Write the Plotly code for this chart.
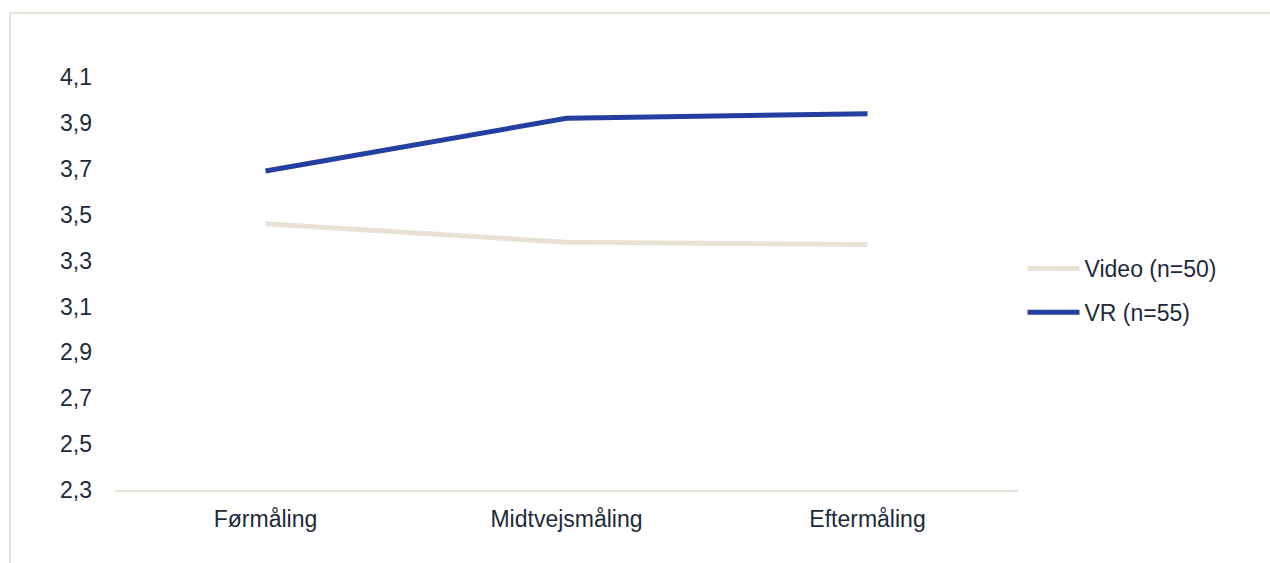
import plotly.graph_objects as go

categories = ["Førmåling", "Midtvejsmåling", "Eftermåling"]
video_values = [3.46, 3.38, 3.37]
vr_values = [3.69, 3.92, 3.94]
series_names = ["Video (n=50)", "VR (n=55)"]
y_ticks = [2.3, 2.5, 2.7, 2.9, 3.1, 3.3, 3.5, 3.7, 3.9, 4.1]
y_tick_labels = [f"{v:.1f}".replace(".", ",") for v in y_ticks]

FONT = "Liberation Sans, Arial, sans-serif"
TEXT = "#1C2B3B"
BEIGE = "#E8E1D6"
BLUE = "#2340A0"
FS = 23

fig = go.Figure()
fig.add_trace(go.Scatter(x=categories, y=video_values, name=series_names[0], mode="lines",
                         line=dict(color=BEIGE, width=5), legendgroup="a"))
fig.add_trace(go.Scatter(x=categories, y=vr_values, name=series_names[1], mode="lines",
                         line=dict(color=BLUE, width=5), legendgroup="b"))

fig.update_layout(
    width=1270, height=563,
    margin=dict(l=115, r=252, t=77, b=73),
    paper_bgcolor="white", plot_bgcolor="white",
    font=dict(family=FONT, size=FS, color=TEXT),
    showlegend=True,
    legend=dict(x=1.005, y=0.483, xanchor="left", yanchor="middle",
                font=dict(size=FS, color=TEXT), tracegroupgap=11, itemwidth=52,
                bgcolor="rgba(0,0,0,0)"),
    xaxis=dict(type="category", range=[-0.5, 2.5], showgrid=False, zeroline=False,
               showline=True, linecolor=BEIGE, linewidth=2, ticks="",
               ticklabelstandoff=7, tickfont=dict(size=FS, color=TEXT)),
    yaxis=dict(range=[2.3, 4.1], tickvals=y_ticks, ticktext=y_tick_labels,
               showgrid=False, zeroline=False, showline=False, ticks="",
               ticklabelstandoff=22, tickfont=dict(size=FS, color=TEXT)),
    shapes=[dict(type="rect", xref="paper", yref="paper",
                 x0=-0.1163, x1=1.35, y0=-0.4, y1=1.155,
                 line=dict(color="#EAE4DA", width=2), layer="below")],
)

fig.write_html("out.html")
